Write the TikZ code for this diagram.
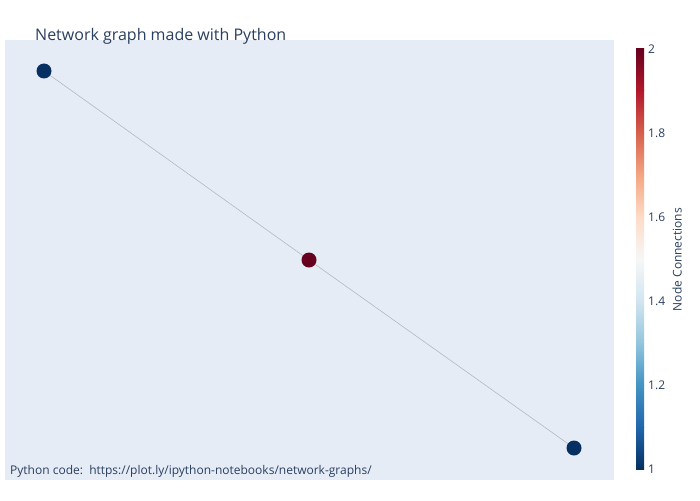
\documentclass[tikz,border=0pt]{standalone}
\usepackage{fontspec}
\setmainfont{Open Sans}
\begin{document}
\begin{tikzpicture}[x=1pt,y=-1pt,
  txt/.style={text=plotfont,inner sep=0pt,font=\fontsize{12}{12}\selectfont},
  gnode/.style={circle,minimum size=15pt,inner sep=0pt,draw=none},
  edge/.style={draw=edgegray,line width=0.5pt}]
\definecolor{plotfont}{HTML}{2A3F5F}
\definecolor{plotbg}{HTML}{E5ECF6}
\definecolor{edgegray}{HTML}{B0B0B8}
\definecolor{c0}{HTML}{053061}
\definecolor{c1}{HTML}{2166AC}
\definecolor{c2}{HTML}{4393C3}
\definecolor{c3}{HTML}{92C5DE}
\definecolor{c4}{HTML}{D1E5F0}
\definecolor{c5}{HTML}{F7F7F7}
\definecolor{c6}{HTML}{FDDBC7}
\definecolor{c7}{HTML}{F4A582}
\definecolor{c8}{HTML}{D6604D}
\definecolor{c9}{HTML}{B2182B}
\definecolor{c10}{HTML}{67001F}
\useasboundingbox (0,0) rectangle (700,500);
\fill[white] (0,0) rectangle (700,500);
\fill[plotbg] (5,40) rectangle (614,480);
% colorbar
\foreach \i [evaluate=\i as \j using int(\i+1)] in {0,...,9}{
  \shade[bottom color=c\i, top color=c\j, shading angle=0]
    (636,{469-42*\i}) rectangle (644,{469-42*(\i+1)});
}
\foreach \v/\y in {1/469,1.2/385,1.4/301,1.6/217,1.8/133,2/49}{
  \node[txt,anchor=west] (tick\v) at (648,\y) {\v};
}
\node[txt,rotate=90,anchor=center] (cbtitle) at (677,259.5) {Node Connections};
% graph
\coordinate (p1) at (44,71);
\coordinate (p2) at (309,260);
\coordinate (p3) at (574,448);
\path[edge] (p1) -- (p2) -- (p3);
\node[gnode,fill=c0] (n1) at (p1) {};
\node[gnode,fill=c10] (n2) at (p2) {};
\node[gnode,fill=c0] (n3) at (p3) {};
% texts
\node[txt,anchor=base west,font=\fontsize{16}{16}\selectfont] (title) at (35,41) {Network graph made with Python};
\node[txt,anchor=base west] (note) at (10,474) {Python code:\ \ https://plot.ly/ipython-notebooks/network-graphs/};
\end{tikzpicture}
\end{document}
